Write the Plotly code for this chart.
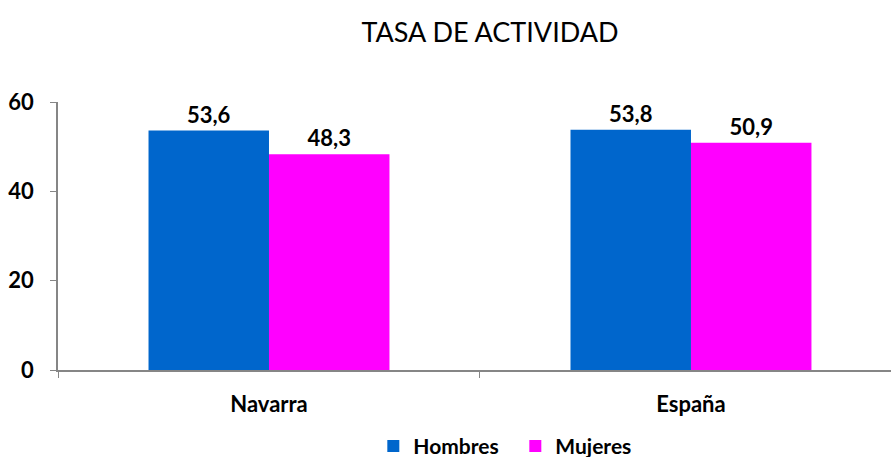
import plotly.graph_objects as go

categories = ["Navarra", "España"]
hombres = [53.6, 53.8]
mujeres = [48.3, 50.9]
y_ticks = [0, 20, 40, 60]
title_text = "TASA DE ACTIVIDAD"

FONT = "Lato"
label_font = dict(family=FONT, size=22, color="black", weight="bold")

fig = go.Figure()
fig.add_trace(go.Bar(
    x=categories, y=hombres, name="Hombres",
    marker=dict(color="#0066CC", line=dict(width=0)),
    texttemplate="%{y:.1f}", textposition="outside",
    textfont=label_font, cliponaxis=False,
))
fig.add_trace(go.Bar(
    x=categories, y=mujeres, name="Mujeres",
    marker=dict(color="#FF00FF", line=dict(width=0)),
    texttemplate="%{y:.1f}", textposition="outside",
    textfont=label_font, cliponaxis=False,
))

fig.update_layout(
    width=891, height=457,
    margin=dict(l=58, r=0, t=102, b=87, autoexpand=False),
    paper_bgcolor="white", plot_bgcolor="white",
    separators=",.",
    barmode="group", bargap=0.429, bargroupgap=0,
    font=dict(family=FONT, color="black"),
    title=dict(text=title_text, x=490/891, xanchor="center",
               y=1 - 33/457, yanchor="middle", yref="container",
               font=dict(family=FONT, size=27, color="black")),
    showlegend=True,
    legend=dict(orientation="h", x=0.549, xanchor="center",
                y=-0.285, yanchor="middle",
                font=dict(family=FONT, size=21, color="black", weight="bold"),
                itemwidth=30, entrywidth=97, entrywidthmode="pixels",
                bgcolor="rgba(0,0,0,0)"),
)
fig.update_xaxes(
    type="category", range=[-0.5, 1.474],
    showline=True, linecolor="#868686", linewidth=1.5,
    ticks="outside", tickson="boundaries", ticklen=6, tickcolor="#868686",
    showgrid=False, zeroline=False,
    tickfont=dict(family=FONT, size=22, color="black", weight="bold"),
    ticklabelstandoff=14,
)
fig.update_yaxes(
    range=[0, 60], tickvals=y_ticks,
    showline=True, linecolor="#868686", linewidth=1.5,
    ticks="outside", ticklen=6, tickcolor="#868686",
    showgrid=False, zeroline=False,
    tickfont=dict(family=FONT, size=22, color="black", weight="bold"),
    ticklabelstandoff=12,
)

fig.write_html(
    "out.html",
    config={"displayModeBar": False},
    post_script="document.body.style.margin='0';document.body.style.padding='0';",
)
